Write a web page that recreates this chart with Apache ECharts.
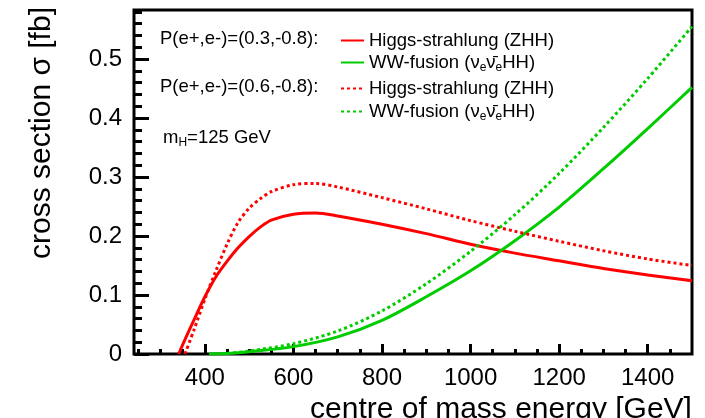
<!DOCTYPE html>
<html>
<head>
<meta charset="utf-8">
<script src="https://cdn.jsdelivr.net/npm/echarts@6/dist/echarts.min.js"></script>
<style>
  html, body { margin: 0; padding: 0; background: #fff; }
  #chart { width: 705px; height: 418px; }
</style>
</head>
<body>
<div id="chart"></div>
<script>
// ZHH (Higgs-strahlung) cross sections [fb]
var zhhEnergy03 = [341, 350, 375, 400, 425, 450, 475, 500, 525, 550, 600, 650, 700, 800, 900, 1000, 1100, 1200, 1300, 1400, 1500]
var zhhPol03 = [0, 0.016, 0.057, 0.097, 0.131, 0.157, 0.180, 0.199, 0.215, 0.227, 0.237, 0.239, 0.234, 0.220, 0.204, 0.186, 0.171, 0.158, 0.145, 0.134, 0.124]
var zhhEnergy06 = [355, 375, 400, 425, 450, 475, 500, 525, 550, 600, 650, 700, 800, 900, 1000, 1100, 1200, 1300, 1400, 1500]
var zhhPol06 = [0, 0.040, 0.093, 0.141, 0.186, 0.223, 0.247, 0.263, 0.275, 0.287, 0.289, 0.283, 0.265, 0.246, 0.226, 0.208, 0.191, 0.175, 0.161, 0.150]

// WW-fusion cross sections [fb]
var wwEnergy = [410, 450, 500, 600, 700, 800, 900, 1000, 1100, 1200, 1300, 1400, 1500]
var wwPol03 = [0, 0.001, 0.004, 0.0125, 0.029, 0.057, 0.097, 0.141, 0.192, 0.249, 0.314, 0.382, 0.452]
var wwPol06 = [0, 0.001, 0.005, 0.0175, 0.039, 0.073, 0.119, 0.174, 0.236, 0.306, 0.384, 0.467, 0.555]

// ticks
var xMajorTicks = [400, 600, 800, 1000, 1200, 1400]
var xMinorTicks = [250, 300, 350, 450, 500, 550, 650, 700, 750, 850, 900, 950, 1050, 1100, 1150, 1250, 1300, 1350, 1450]
var yMajorTicks = [0, 0.1, 0.2, 0.3, 0.4, 0.5]
var yMinorTicks = [0.02, 0.04, 0.06, 0.08, 0.12, 0.14, 0.16, 0.18, 0.22, 0.24, 0.26, 0.28, 0.32, 0.34, 0.36, 0.38, 0.42, 0.44, 0.46, 0.48, 0.52, 0.54, 0.56, 0.58]

var FONT = 'Liberation Sans, Arial, sans-serif'
var RED = '#ff0000'
var GREEN = '#00cc00'

var legendText = {
  zhh03: 'Higgs-strahlung (ZHH)',
  ww03: 'WW-fusion (\u03bd{sub|e}\u03bd\u0304{sub|e}HH)',
  zhh06: 'Higgs-strahlung (ZHH)',
  ww06: 'WW-fusion (\u03bd{sub|e}\u03bd\u0304{sub|e}HH)'
}

function pairs(xs, ys) {
  return xs.map(function (x, i) { return [x, ys[i]] })
}

function makeLegend(name, top) {
  return {
    data: [name],
    left: 335,
    top: top,
    itemWidth: 23,
    itemHeight: 14,
    selectedMode: false,
    itemStyle: { color: 'transparent', borderWidth: 0, opacity: 0 },
    formatter: function (n) { return legendText[n] },
    textStyle: {
      fontFamily: FONT,
      fontSize: 18.5,
      color: '#000',
      rich: {
        sub: { fontFamily: FONT, fontSize: 12, color: '#000', verticalAlign: 'bottom', padding: [10, 0, 0, 0] }
      }
    }
  }
}

function makeLine(name, xs, ys, color, dotted) {
  return {
    name: name,
    type: 'line',
    data: pairs(xs, ys),
    smooth: 0.3,
    symbol: 'none',
    lineStyle: { color: color, width: 3, type: dotted ? [3, 3] : 'solid' },
    itemStyle: { color: color }
  }
}

var chart = echarts.init(document.getElementById('chart'))
var option = {
  animation: false,
  backgroundColor: '#fff',
  grid: {
    left: 134,
    right: 13,
    top: 10,
    bottom: 64,
    containLabel: false,
    outerBoundsMode: 'none',
    show: true,
    borderColor: '#000',
    borderWidth: 3
  },
  legend: [
    makeLegend('zhh03', 26),
    makeLegend('ww03', 48),
    makeLegend('zhh06', 74),
    makeLegend('ww06', 97)
  ],
  xAxis: [
    {
      type: 'value',
      min: 240,
      max: 1500,
      axisLine: { show: false },
      splitLine: { show: false },
      axisTick: { inside: true, length: 10, customValues: xMajorTicks, lineStyle: { color: '#000', width: 3 } },
      axisLabel: {
        customValues: xMajorTicks,
        formatter: function (v) { return String(v) },
        fontFamily: FONT, fontSize: 24, color: '#000', margin: 12
      },
      name: 'centre of mass energy [GeV]',
      nameLocation: 'middle',
      nameGap: 30,
      nameTextStyle: { fontFamily: FONT, fontSize: 30, color: '#000', verticalAlign: 'top', padding: [0, 0, 0, 176] }
    },
    {
      type: 'value',
      min: 240,
      max: 1500,
      position: 'bottom',
      axisLine: { show: false },
      splitLine: { show: false },
      axisTick: { inside: true, length: 5, customValues: xMinorTicks, lineStyle: { color: '#000', width: 3 } },
      axisLabel: { show: false }
    }
  ],
  yAxis: [
    {
      type: 'value',
      min: 0,
      max: 0.583,
      axisLine: { show: false },
      splitLine: { show: false },
      axisTick: { inside: true, length: 15, customValues: yMajorTicks, lineStyle: { color: '#000', width: 3 } },
      axisLabel: { customValues: yMajorTicks, fontFamily: FONT, fontSize: 24, color: '#000', margin: 12 },
      name: 'cross section \u03c3 [fb]',
      nameLocation: 'middle',
      nameGap: 77,
      nameTextStyle: { fontFamily: FONT, fontSize: 30, color: '#000', padding: [0, 0, 0, 98] }
    },
    {
      type: 'value',
      min: 0,
      max: 0.583,
      position: 'left',
      axisLine: { show: false },
      splitLine: { show: false },
      axisTick: { inside: true, length: 8, customValues: yMinorTicks, lineStyle: { color: '#000', width: 3 } },
      axisLabel: { show: false }
    }
  ],
  graphic: [
    {
      type: 'text', left: 160, top: 29,
      style: { text: 'P(e+,e-)=(0.3,-0.8):', font: '18.5px ' + FONT, fill: '#000' }
    },
    {
      type: 'text', left: 160, top: 77,
      style: { text: 'P(e+,e-)=(0.6,-0.8):', font: '18.5px ' + FONT, fill: '#000' }
    },
    {
      type: 'text', left: 163, top: 128,
      style: {
        text: 'm{sub|H}=125 GeV',
        font: '18.5px ' + FONT,
        fill: '#000',
        rich: { sub: { fontFamily: FONT, fontSize: 12, fill: '#000', verticalAlign: 'bottom', padding: [10, 0, 0, 0] } }
      }
    }
  ],
  series: [
    makeLine('zhh03', zhhEnergy03, zhhPol03, RED, false),
    makeLine('ww03', wwEnergy, wwPol03, GREEN, false),
    makeLine('zhh06', zhhEnergy06, zhhPol06, RED, true),
    makeLine('ww06', wwEnergy, wwPol06, GREEN, true)
  ]
}
option && chart.setOption(option)
</script>
</body>
</html>
